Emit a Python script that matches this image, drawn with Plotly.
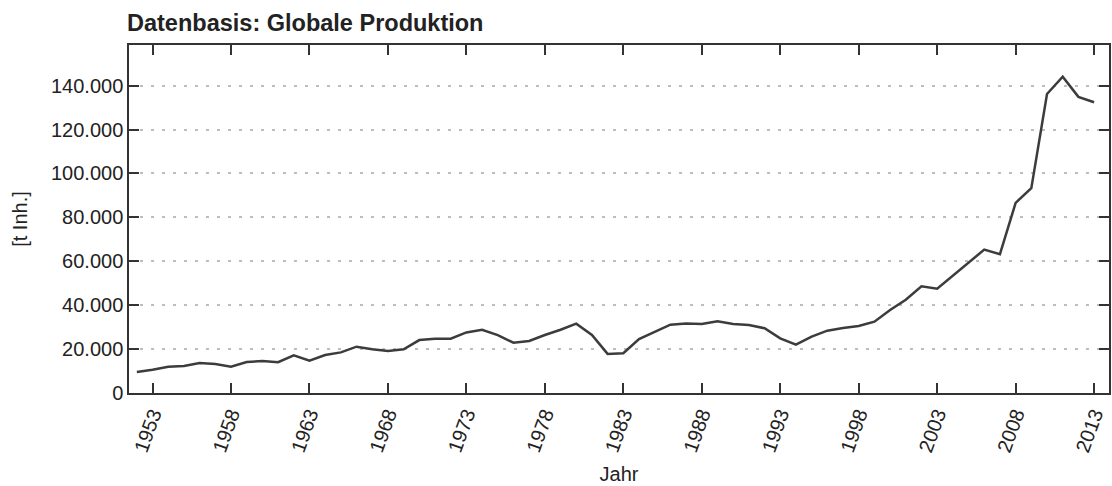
import plotly.graph_objects as go

years = list(range(1952, 2014))
production = [
    9600, 10600, 12000, 12300, 13700, 13200, 12000, 14100, 14600, 14000,  # 1952-1961
    17200, 14700, 17300, 18500, 21100, 19900, 19100, 19900, 24100, 24700,  # 1962-1971
    24700, 27600, 28800, 26400, 22900, 23700, 26400, 28800, 31600, 26400,  # 1972-1981
    17800, 18100, 24600, 27900, 31100, 31700, 31400, 32700, 31400, 31000,  # 1982-1991
    29500, 24900, 22000, 25700, 28400, 29600, 30500, 32500, 37800, 42500,  # 1992-2001
    48600, 47500, 53400, 59200, 65300, 63200, 86600, 93300, 136200, 144100,  # 2002-2011
    134900, 132400,  # 2012-2013
]
x_ticks = [1953, 1958, 1963, 1968, 1973, 1978, 1983, 1988, 1993, 1998, 2003, 2008, 2013]
y_ticks = [0, 20000, 40000, 60000, 80000, 100000, 120000, 140000]
y_ticklabels = ["0", "20.000", "40.000", "60.000", "80.000", "100.000", "120.000", "140.000"]

title_text = "Datenbasis: Globale Produktion"
x_title = "Jahr"
y_title = "[t Inh.]"

font_family = "Liberation Sans, Arial, Helvetica, sans-serif"
axis_color = "#333333"
text_color = "#222222"

fig = go.Figure()
fig.add_trace(go.Scatter(
    x=years, y=production, mode="lines",
    line=dict(color="#3c3c3c", width=2.5),
    showlegend=False, hoverinfo="x+y",
))

fig.update_layout(
    width=1112, height=486,
    margin=dict(l=129, r=3, t=45, b=93),
    paper_bgcolor="white", plot_bgcolor="white",
    font=dict(family=font_family, size=20, color=text_color),
    title=dict(text="<b>" + title_text + "</b>", x=127 / 1112, xanchor="left",
               y=1 - 23 / 486, yanchor="middle",
               font=dict(family=font_family, size=23.5, color=text_color)),
)

fig.update_xaxes(
    range=[1951.5, 2013.95],
    tickmode="array", tickvals=x_ticks, ticktext=[str(v) for v in x_ticks],
    tickangle=-70,
    ticks="inside", ticklen=10, tickwidth=1.5, tickcolor=axis_color,
    showline=True, linecolor=axis_color, linewidth=1.5, mirror="ticks",
    showgrid=False, zeroline=False, automargin=False,
    title=dict(text=x_title, standoff=13, font=dict(size=20)),
    tickfont=dict(size=20),
)
fig.update_yaxes(
    range=[0, 158500],
    tickmode="array", tickvals=y_ticks, ticktext=y_ticklabels,
    ticks="inside", ticklen=10, tickwidth=1.5, tickcolor=axis_color,
    showline=True, linecolor=axis_color, linewidth=1.5, mirror="ticks",
    showgrid=True, gridcolor="#bdbdbd", gridwidth=1.5, griddash="3px,8px",
    zeroline=False, automargin=False,
    title=dict(text=y_title, standoff=18, font=dict(size=20)),
    tickfont=dict(size=20),
)

fig.write_html("out.html", config={"displayModeBar": False},
               post_script="document.body.style.margin='0';")
